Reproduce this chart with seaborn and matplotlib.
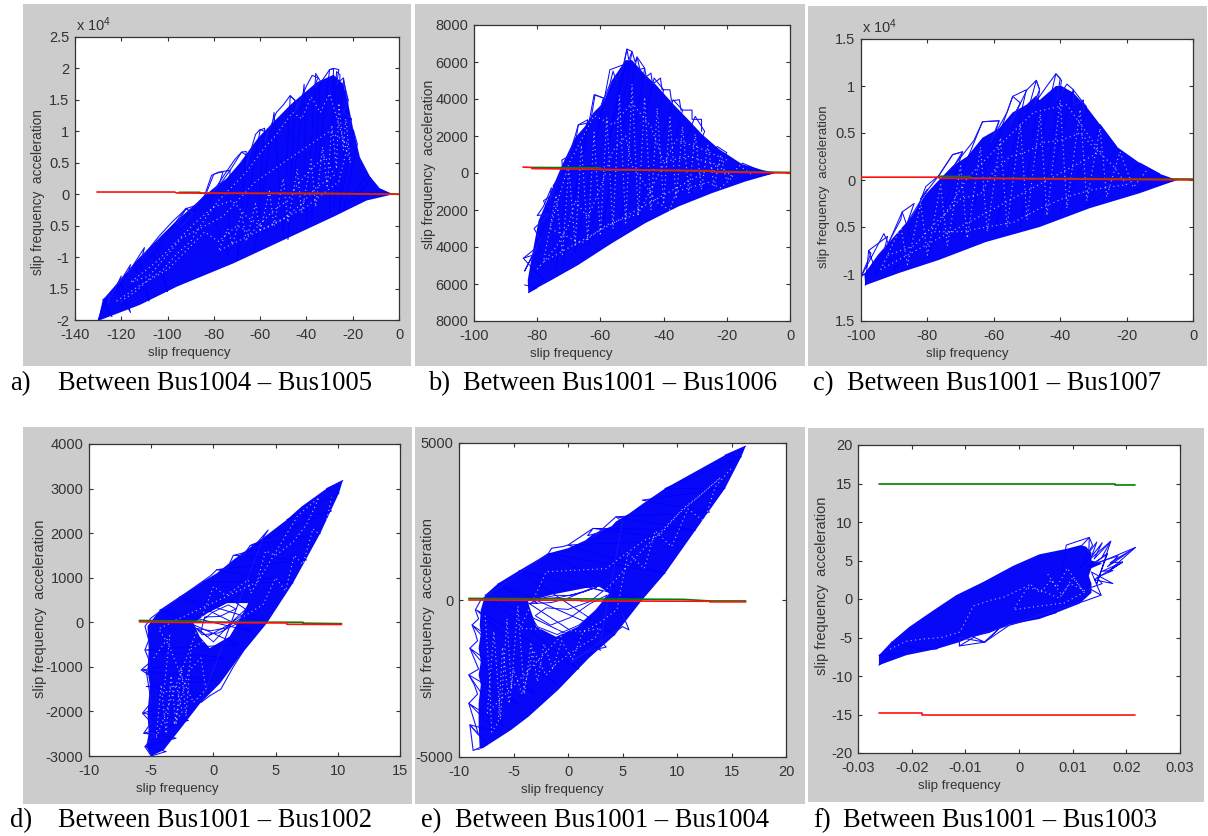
import matplotlib
matplotlib.use("Agg")
import matplotlib.pyplot as plt
from matplotlib.patches import Rectangle
import seaborn as sns

# ---------- panel a ----------
a_env_x = [-130,-128,-112,-97.5,-84.5,-80,-74.5,-68.7,-60.8,-47,-35.5,-28.3,-24,-22,-19.7,-16.9,-12.5,-8.2,-2.4,-14,-28.4,-50,-71.6,-96,-112,-129]
a_env_y = [-2,-1.68,-1,-.47,-.04,.1,.25,.5,.9,1.42,1.78,1.9,1.75,1.45,1.02,.59,.28,.09,0,-.1,-.36,-.73,-1.1,-1.47,-1.76,-2]
a_scr_x = [-130,-127,-124,-127.5,-120,-116,-122,-112,-108,-114,-104,-100,-106,-97,-92,-90,-96,-94,-84,-80,-76,-78,-82,-74,-73,-68,-66,-70,-60,-58,-62,-54,-50,-47,-45,-48,-41,-40,-36,-34,-38,-30,-28.3,-30,-27,-25.5,-28,-24,-22,-26,-19.7,-18,-24,-14,-12,-20,-8,-4]
a_scr_y = [-2,-1.68,-1.95,-1.78,-1.42,-1.88,-1.5,-1.02,-1.7,-1.2,-.88,-1.55,-.95,-.47,-.22,-.3,-.5,-.55,-.05,.32,.36,.12,-.1,-1.0,.38,.67,.68,-1.05,1.02,1.05,-.8,1.3,-.7,1.56,1.5,-.72,1.75,-.5,1.92,1.8,-.45,1.98,2,-.3,1.95,1.9,-.2,1.82,1.5,-.3,1.02,.8,-.25,.3,.25,-.1,.08,0]
a_edge_x = [-128,-125,-126,-120,-121,-116,-117,-110,-111,-104,-98,-92,-89,-94,-96,-92,-88,-84,-81,-78,-73,-78,-81,-76,-71,-68,-65,-66,-62,-60,-57,-58,-53,-50,-47,-44,-45,-40,-37.5,-35,-37,-33,-30,-28,-26,-27,-24,-23,-22,-24,-20.5,-22]
a_edge_y = [-1.68,-1.6,-1.75,-1.3,-1.42,-1.12,-1.25,-.85,-1,-.68,-.44,-.23,-.3,-.52,-.47,-.23,-.18,-.02,.3,.35,.38,.12,0,.28,.55,.67,.6,.45,.95,1.03,.98,.85,1.3,1.42,1.57,1.45,1.3,1.72,1.89,1.85,1.68,1.82,1.98,2,1.98,1.75,1.85,1.6,1.5,1.3,1.2,1.0]
a_gap_x = [-122,-112,-100,-92,-84,-78,-70,-64,-58,-54,-48,-44,-38,-32,-28,-36,-42,-50,-58,-66,-72,-80,-88,-104,-116,-108,-94,-76,-62,-52,-42,-30,-22,-26,-40,-56,-78,-74,-72,-68,-66,-62,-60,-56,-54,-50,-48,-44,-42,-38,-36,-33,-31,-29,-27,-26,-24,-23,-21,-30,-34,-38,-42,-46,-50,-54,-58,-62,-66,-70,-74,-78,-84,-90,-96,-102,-108,-114,-120]
a_gap_y = [-1.7,-1.45,-1.2,-.9,-.6,-.75,-.5,-.62,-.4,-.25,-.1,.15,.4,.6,.3,.1,-.15,-.4,-.55,-.35,-.1,-.2,-.45,-1.05,-1.4,-1.3,-.7,-.35,.2,.45,.7,1.0,.8,.2,-.2,-.5,-.9,-.55,-.8,-.3,-.75,-.15,-.6,.05,-.5,.25,-.45,.4,-.3,.55,-.2,.75,.1,1.1,.4,1.45,.7,1.2,.5,1.6,1.3,1.55,1.2,1.3,1.1,.9,.75,.55,.35,.2,.05,-.1,-.4,-.75,-.95,-1.2,-1.35,-1.55,-1.7]
a_green_x = [-95,-86,-86,-40,-30,0]
a_green_y = [.03,.03,.015,.015,.015,0]
a_red_x = [-130.5,-97,-96,-40,0]
a_red_y = [.035,.035,.02,.01,0]
a_xticks = [-140,-120,-100,-80,-60,-40,-20,0]
a_yticks = [-2,-1.5,-1,-.5,0,.5,1,1.5,2,2.5]
a_ylabels = ["-2","1.5","-1","0.5","0","0.5","1","1.5","2","2.5"]

# ---------- panel b ----------
b_env_x = [-82.8,-83,-82,-79.6,-75.9,-72.2,-68,-65,-62,-59,-56.4,-52,-50,-48.4,-45.8,-42.6,-36.8,-32,-27.9,-22.5,-15.2,-8.9,-4.6,-14.1,-24.7,-35.3,-45.8,-56.4,-67,-75.4]
b_env_y = [-6470,-5800,-4800,-2600,-1100,400,1900,2500,3300,3800,5000,6100,6100,5800,5300,4800,3700,2850,2100,1300,480,170,10,-460,-1090,-1810,-2710,-3800,-4970,-5780]
b_scr_x = [-84,-80,-82.8,-78,-84.4,-79,-80,-76,-78,-72,-75,-70,-74,-67,-64,-72,-62,-59,-68,-57,-52,-64,-51.6,-50,-60,-48.4,-46,-54,-43,-40,-48,-37,-34,-42,-30,-27,-36,-23,-20,-28,-15,-10,-16,-5]
b_scr_y = [-6050,-6200,-6470,-5800,-4610,-4300,-3600,-2300,-1500,-800,-700,500,-5200,2600,2880,-5000,4230,4050,-4300,5580,5900,-3900,6700,6570,-3500,6270,5670,-2900,5130,4500,-2500,3960,3400,-2000,3060,2250,-1400,1430,1100,-1000,530,170,-400,0]
b_edge_x = [-84.4,-80,-84,-79,-81,-76,-80,-78,-75.5,-76,-72,-72.2,-70,-68,-67,-64,-63,-61.7,-59,-60,-57,-56,-55,-53,-51.6,-51,-50,-49,-48.4,-47.5,-46,-45.5,-44,-43.5,-41,-40.5,-38,-37.5,-35,-34.5,-31,-31,-28,-28]
b_edge_y = [-4610,-4000,-5300,-3600,-3000,-2200,-2300,-1800,-800,-1500,300,700,900,2000,2600,2700,2880,4230,4050,3500,4800,5500,5000,5600,6700,6100,6570,6000,6270,5600,5670,5200,5400,4800,5130,4500,4500,3900,3960,3400,3400,2900,2900,2250]
b_gap_x = [-80,-74,-70,-68,-64,-60,-56,-52,-50,-46,-42,-38,-36,-30,-26,-22,-18,-24,-32,-40,-44,-50,-56,-62,-70,-76,-66,-58,-48,-36,-28,-20,-78,-74,-72,-70,-68,-66,-64,-62,-60,-58,-56,-54,-52,-50,-48,-46,-44,-42,-40,-38,-36,-34,-32,-30,-28,-26,-24,-22,-20,-16,-12]
b_gap_y = [-5200,-4000,-2800,-1500,-2400,-800,1200,2000,400,-600,-1600,-2000,-1000,-700,-500,-800,-200,500,900,600,2500,3800,2600,3100,500,-3000,-3800,-2800,-2200,1800,1300,700,-4800,-1200,-4400,300,-3900,1500,-3600,2200,-3400,3000,-3000,4200,-2700,4800,-2300,4100,-2000,3500,-1700,3000,-1400,2500,-1100,2100,-900,1500,-700,900,-400,400,-100]
b_green_x = [-81.7,-60,-60,0]
b_green_y = [300,280,180,30]
b_red_x = [-84.5,-81.7,-81.7,-24,-24,0]
b_red_y = [320,300,240,120,60,0]
b_xticks = [-100,-80,-60,-40,-20,0]
b_yticks = [-8000,-6000,-4000,-2000,0,2000,4000,6000,8000]
b_ylabels = ["8000","6000","4000","2000","0","2000","4000","6000","8000"]

# ---------- panel c ----------
c_env_x = [-98.7,-99,-95,-90,-85,-80.5,-76.5,-72.4,-68,-63.4,-58.4,-54.3,-50.2,-47.2,-46.2,-41.3,-39.6,-36.1,-32.1,-28,-23,-16,-9.9,-4.8,-16,-31.1,-46.2,-62.4,-76.5,-88.6]
c_env_y = [-1.12,-1,-.8,-.6,-.4,-.15,0,.15,.25,.45,.55,.72,.8,.9,.85,1,1,.93,.78,.59,.355,.18,.064,0,-.14,-.3,-.5,-.66,-.85,-.99]
c_scr_x = [-98.7,-97.7,-96,-100,-93.1,-90,-96,-87.6,-84,-90,-80.5,-76.5,-72.4,-69.4,-80,-63.4,-58.4,-70,-54.3,-50.2,-60,-47.2,-46.2,-52,-41.3,-39.6,-46,-36.1,-32.1,-40,-28,-23,-32,-16,-10,-18,-5]
c_scr_y = [-1.12,-.75,-.92,-1.03,-.57,-.82,-1.02,-.34,-.7,-.96,-.07,.05,.27,.3,-.82,.62,.63,-.66,.89,.96,-.58,1.06,.96,-.5,1.13,1.06,-.42,.96,.78,-.36,.59,.355,-.28,.18,.064,-.12,0]
c_edge_x = [-100,-97,-97.7,-92,-93,-88,-87.6,-84,-86,-80,-82,-76.5,-72.4,-69.4,-72,-66,-63.4,-58.4,-61,-56,-54.3,-52,-55,-50,-47.2,-46.2,-48,-44,-41.3,-40,-41,-38,-36,-36,-33,-33]
c_edge_y = [-1.03,-.78,-.75,-.6,-.75,-.42,-.34,-.25,-.45,-.1,-.2,.05,.27,.3,.15,.42,.62,.63,.4,.72,.89,.82,.6,.96,1.06,.96,.8,1,1.13,1.08,.85,1.02,.96,.8,.85,.7]
c_gap_x = [-92,-84,-76,-70,-64,-60,-55,-50,-45,-40,-34,-30,-24,-20,-30,-38,-46,-54,-62,-70,-78,-68,-58,-48,-38,-28,-94,-88,-86,-82,-80,-76,-74,-70,-68,-64,-62,-58,-56,-52,-50,-46,-44,-40,-38,-34,-32,-28,-26,-22,-18,-14]
c_gap_y = [-.8,-.7,-.4,-.2,-.15,.1,.25,.3,.4,.42,.5,.35,.15,-.05,-.1,-.18,-.3,-.45,-.5,-.55,-.55,.02,.38,.72,.8,.3,-.95,-.5,-.9,-.25,-.8,-.05,-.7,.15,-.62,.35,-.55,.45,-.5,.6,-.42,.7,-.38,.85,-.3,.75,-.22,.55,-.18,.3,-.08,.1]
c_green_x = [-76.5,-67,-67,0]
c_green_y = [.04,.035,.02,.01]
c_red_x = [-100,-76.5,-76.5,0]
c_red_y = [.03,.03,.02,0]
c_xticks = [-100,-80,-60,-40,-20,0]
c_yticks = [-1.5,-1,-.5,0,.5,1,1.5]
c_ylabels = ["1.5","-1","0.5","0","0.5","1","1.5"]

# ---------- panel d ----------
d_env_x = [-5,-5.4,-5.2,-5.3,-5.1,-5.3,-5.2,-5.3,-4.3,-2.7,-.8,.27,1.6,2.95,4.4,5.9,7.1,9.1,10.4,10.1,8.6,6.4,4.3,2.1,.54,-1.07,-2.4,-4]
d_env_y = [-3000,-2790,-2490,-2040,-1440,-1070,-620,-90,280,580,920,1100,1400,1680,1980,2300,2600,3000,3180,2900,2000,880,-20,-770,-1370,-1820,-2300,-2870]
d_scr_x = [-5,-3.8,-5.5,-3,-5.6,-2,-5.7,-.8,-5.4,0,-5.8,1,-5.5,2,-4.3,3,-2.7,4.3,-.8,6.4,.27,7.5,1.6,8.6,2.95,9.5,5.9,10.1,9.1,10.4]
d_scr_y = [-3000,-2900,-2790,-2600,-2490,-2200,-2040,-1600,-1440,-1300,-1070,-800,-620,-500,280,-200,580,-20,920,880,1180,1400,1500,2000,1720,2500,2300,2900,3000,3180]
d_edge_x = [-5,-5.5,-4.7,-5.6,-5,-5.7,-5,-5.2,-5.4,-5.1,-5.8,-5.1,-5.5,-5.2,-5.5,-5,-.2,.27,1.1,1.6,2.4,2.95,3.5,4.4,4,-1,-.3,.6,1.6,2.4]
d_edge_y = [-3000,-2790,-2500,-2490,-2250,-2040,-1800,-1440,-1100,-1200,-1070,-900,-620,-400,-90,100,1050,1180,1200,1500,1500,1720,1780,2070,1900,-1800,-1650,-1500,-1000,-650]
d_hole_x = [-1.6,-.5,1.1,2.8,2.1,1.3,-.3,-1.1]
d_hole_y = [-20,200,430,430,50,-320,-580,-320]
d_arc_x = [-1.7,-.9,.4,1.9,2.5,1.2,-.5,-1.3,-.2,1,2.2,2.7,1.6,0,-1,-.7,.5,1.8,1.2,-.1,-.8]
d_arc_y = [-40,-280,-240,-30,200,-60,-320,-140,-190,-130,90,320,40,-440,-200,120,130,300,390,220,60]
d_gap_x = [-4.8,-3.5,-4,-3,-2.5,-3.2,-2,-1,-.6,-1.6,-2.6,-3.6,-4.4,-3,3.5,4.2,5,6.4,7.5,8.5,6.8,3,2.8,1,0,-4.6,-4.2,-3.8,-3.4,-3,-2.6,-2.2,-1.8,4,5,5.8,6.5,7.2,8,8.8,9.5]
d_gap_y = [-800,-300,-1600,-1400,-2000,-2300,-1100,-800,-1500,-1800,-1200,-500,-150,50,900,1600,1500,1800,2200,2800,2400,650,950,600,800,-2600,-1400,-2500,-1200,-2300,-1000,-2100,-600,400,1000,700,1500,1300,2100,1900,2800]
d_green_x = [-5.95,-1,-1,7.2,7.2,10.3]
d_green_y = [40,25,5,0,-20,-30]
d_red_x = [-5.95,-2.4,5.9,5.9,10.3]
d_red_y = [10,-5,-15,-45,-50]
d_xticks = [-10,-5,0,5,10,15]
d_yticks = [-3000,-2000,-1000,0,1000,2000,3000,4000]
d_ylabels = ["-3000","-2000","-1000","0","1000","2000","3000","4000"]

# ---------- panel e ----------
e_env_x = [-8.7,-8.1,-8.2,-8.2,-8,-8.2,-8,-8.2,-8,-8.1,-8,-7.6,-6.4,-4.5,-1.8,0,1.6,2.3,4,4.4,5.6,6.8,8.9,11.1,14.4,16.3,15.9,14.4,11.7,8.9,6.8,4.3,1.9,-.9,-3.6,-5.2,-7.8]
e_env_y = [-4790,-4770,-3975,-3290,-2700,-2385,-1960,-1537,-1060,-795,-318,159,530,933,1484,1650,1900,2100,2350,2500,2750,3050,3550,3975,4610,4900,4560,3550,2226,848,0,-1113,-1855,-2862,-3710,-4134,-4717]
e_scr_x = [-8.7,-7.4,-9,-6.5,-9.1,-5.8,-9.1,-4.6,-9,-3,-8.8,-1,-8.4,1,-7.6,3,-6.4,4.3,-4.5,6.8,-1.8,8.9,0,10.5,2.3,11.7,4.4,13,6.8,14.4,8.9,15.9,14.4,16.3]
e_scr_y = [-4790,-4600,-3975,-4200,-3290,-4050,-2385,-3300,-1537,-3000,-795,-2700,-318,-2200,159,-1600,530,-1113,933,0,1484,848,1750,1900,2280,2226,2650,2800,3180,3550,3550,4560,4610,4900]
e_edge_x = [-8.7,-9,-8.2,-9.1,-8.3,-8.6,-9.1,-8.2,-9,-8.3,-8.5,-8.8,-8.2,-8.5,-8,-1.8,-1.5,-.5,0,2.3,1.8,3,2.3,4.4,5,3,3.5,2.2,1.2,.2,5,5.6,5]
e_edge_y = [-4790,-3975,-4300,-3290,-3000,-2700,-2385,-2200,-1537,-1300,-1060,-795,-600,-318,0,1484,1650,1700,1750,2280,2050,2150,2000,2650,2500,-1300,-1500,-1600,-1750,-2000,-850,-950,-450]
e_hole_x = [-3.7,-1.5,1.6,2.9,3.8,2.5,.9,-1.1,-2.9]
e_hole_y = [-50,170,380,420,210,-320,-850,-1170,-850]
e_arc_x = [-3.8,-2.8,-1,1,2.7,3.6,2,.2,-1.6,-3,-2,0,2,3.2,2.2,0,-1.5,-3.6,-2.4,-.8,1.4,2.6,1.8,.2,-1.1,-3.4,-2.8]
e_arc_y = [-300,-850,-1100,-800,-300,160,-120,-560,-800,-500,-250,-300,-50,280,380,60,-80,-120,40,80,250,400,310,140,150,-10,-100]
e_gap_x = [-7.6,-7.2,-7,-6.4,-6,-5.4,-5,-4.2,-3.5,-3.2,-2,-1,1,2.5,3,1.5,-4.4,-2,3.5,5,7,8.5,10.5,12,14,10,6,4.5,-7.4,-6.8,-6.2,-5.6,-5.2,-4.6,-4,-3.4,-2.8,-2.2,-1.4,-.6,.4,1.4,3,4.5,5.5,7,8,9.5,11,12.5,13.5,15]
e_gap_y = [-500,-2500,-4200,-3900,-1500,-3300,-2200,-3000,-2100,-1600,-2400,-2000,-1500,-1200,-900,-1000,-900,900,1000,1400,1900,2100,2900,3300,3900,2700,1300,700,-3600,-1000,-3800,-600,-2800,-200,-3000,-1400,-2600,-1400,-2200,-1300,-1900,-1000,-700,-300,1500,1000,2200,1700,2900,2500,3600,4200]
e_green_x = [-9.1,10.6,13,16.3]
e_green_y = [50,20,-30,-30]
e_red_x = [-9.1,1.2,1.2,13,13,16.3]
e_red_y = [0,-10,-30,-40,-60,-60]
e_xticks = [-10,-5,0,5,10,15,20]
e_yticks = [-5000,0,5000]
e_ylabels = ["-5000","0","5000"]

# ---------- panel f ----------
f_env_x = [-.0261,-.0261,-.0238,-.0204,-.016,-.0117,-.0067,-.0011,.0038,.0088,.0115,.0125,.0135,.0135,.0155,.0135,.013,.0135,.0135,.0113,.0069,.0038,-.0018,-.0055,-.0086,-.0111,-.0154,-.021]
f_env_y = [-8.6,-7.3,-5.6,-3.6,-1.5,.5,2.2,4.3,5.8,6.5,7,6.8,6,5,4.6,4,3,2,.8,-.6,-1.8,-2.6,-3.3,-4.4,-4.9,-5.6,-6.5,-7.3]
f_scr_x = [-.0261,-.023,-.0261,-.0215,-.0238,-.019,-.0154,-.0111,-.0111,-.0064,-.0018,.0069,.0088,.0131,.0137,.0113,.0171,.0145,.0165,.0125,.0217,.0165,.0193,.014,.0175,.0135,.0153]
f_scr_y = [-8.6,-7,-7.3,-7.1,-5.6,-6.4,-6.5,-4.5,-6.1,-5.6,-3.4,-1.8,7,8,7,4,7.5,2,5.9,4,6.7,3.5,4.8,2.5,2,3.5,.5]
f_edge_x = [.0115,.0131,.013,.0145,.0135,.0155,.014,.0171,.0155,.0165,.014,.0185,.0165,.0217,.017,.0193,.0155,.0175,.0145,.0155,.013,.0153,.0125,-.0086,-.0064,-.0035,-.0064,-.0111,-.0111,-.0085]
f_edge_y = [6.8,8,6,7.4,5.5,7.3,5.2,7.5,5.5,5.9,4.6,5.6,4.2,6.7,4.7,4.8,3.6,3.7,2.8,2,1.4,.5,-.2,-4.9,-5.6,-3.7,-5.6,-5,-6.1,-5]
f_gap_x = [-.024,-.021,-.018,-.0145,-.011,-.0085,-.005,-.003,.001,.004,.0055,.0075,.0095,.0125,.0085,.003,-.001,.002,.004,.006,.008,.01,.012,.009,.007,.005]
f_gap_y = [-6.5,-5.5,-5.2,-5,-4.3,-.9,-.1,.2,1.5,1.2,.7,.1,2,1,-.5,-1,-1.4,2,.8,2.5,.5,2.8,1,4,1.5,3.6]
f_green_x = [-.0261,.0178,.0178,.0217]
f_green_y = [15,15,14.85,14.85]
f_red_x = [-.0261,-.018,-.018,.0217]
f_red_y = [-14.85,-14.85,-15,-15]
f_xticks = [-.03,-.02,-.01,0,.01,.02,.03]
f_xlabels = ["-0.03","-0.02","-0.01","0","0.01","0.02","0.03"]
f_yticks = [-20,-15,-10,-5,0,5,10,15,20]
f_ylabels = ["-20","-15","-10","-5","0","5","10","15","20"]

captions = ["Between Bus1004 – Bus1005","Between Bus1001 – Bus1006","Between Bus1001 – Bus1007",
            "Between Bus1001 – Bus1002","Between Bus1001 – Bus1004","Between Bus1001 – Bus1003"]
letters = ["a)","b)","c)","d)","e)","f)"]

# ---------- layout in pixels ----------
W, H = 1208, 836
sns.set_theme(style="white")
plt.rcParams["font.family"] = ["Liberation Sans"]
plt.rcParams["mathtext.default"] = "regular"
fig = plt.figure(figsize=(W/100, H/100), dpi=100, facecolor="white")
INK = "#333333"

def box(x0, y0, x1, y1):
    return [x0/W, 1-y1/H, (x1-x0)/W, (y1-y0)/H]

def panel(gray, axbox, xlim, ylim, xt, xl, yt, yl, env, scr, edge, gap, green, red,
          hole=None, arc=None, mult=False, cap=0, letter_x=8, cap_x=58, cap_y=390,
          xlabel_cx=None, ylabel_x=None, ylabel_cy=None, ylabel_fs=9.8):
    fig.add_artist(Rectangle((gray[0]/W, 1-gray[3]/H), (gray[2]-gray[0])/W, (gray[3]-gray[1])/H,
                             transform=fig.transFigure, fc="#cccccc", ec="none", zorder=-5))
    ax = fig.add_axes(box(*axbox), facecolor="white")
    ax.fill(env[0], env[1], color="#0808f8", lw=0, zorder=1)
    if hole:
        ax.fill(hole[0], hole[1], color="white", lw=0, zorder=1.5)
    sns.lineplot(x=scr[0], y=scr[1], sort=False, estimator=None, color="#0000ff", lw=0.7, ax=ax, zorder=2)
    sns.lineplot(x=edge[0], y=edge[1], sort=False, estimator=None, color="#1414ff", lw=0.8, ax=ax, zorder=2)
    sns.lineplot(x=gap[0], y=gap[1], sort=False, estimator=None, color="white", lw=0.8, alpha=0.7,
                 linestyle=(0, (1, 3)), ax=ax, zorder=2.5)
    if arc:
        sns.lineplot(x=arc[0], y=arc[1], sort=False, estimator=None, color="#1010ff", lw=0.7, ax=ax, zorder=2.6)
    sns.lineplot(x=green[0], y=green[1], sort=False, estimator=None, color="#007f00", lw=1.2, ax=ax, zorder=3)
    sns.lineplot(x=red[0], y=red[1], sort=False, estimator=None, color="#ff1010", lw=1.2, ax=ax, zorder=3.2)
    ax.set_xlim(*xlim); ax.set_ylim(*ylim)
    ax.set_xticks(xt); ax.set_xticklabels(xl)
    ax.set_yticks(yt); ax.set_yticklabels(yl)
    ax.tick_params(direction="in", length=3.2, width=0.8, color=INK, labelcolor=INK, labelsize=10.5,
                   top=True, right=True, bottom=True, left=True)
    ax.tick_params(axis="x", pad=6)
    ax.tick_params(axis="y", pad=4)
    for s in ax.spines.values():
        s.set_color(INK); s.set_linewidth(0.9); s.set_visible(True)
    ax.grid(False)
    ax.set_xlabel(""); ax.set_ylabel("")
    fig.text(xlabel_cx/W, 1-(axbox[3]+33)/H, "slip frequency", ha="center", va="center", fontsize=9.6, color=INK)
    fig.text(ylabel_x/W, 1-ylabel_cy/H, "slip frequency  acceleration", rotation=90,
             ha="center", va="center", fontsize=ylabel_fs, color=INK)
    if mult:
        fig.text((axbox[0]+1)/W, 1-(axbox[1]-12)/H, r"x 10$^{4}$", ha="left", va="center", fontsize=10.5, color=INK)
    fig.text(letter_x/W, 1-cap_y/H, letters[cap], family="Liberation Serif", fontsize=19.1, color="black", va="baseline")
    fig.text(cap_x/W, 1-cap_y/H, captions[cap], family="Liberation Serif", fontsize=19.1, color="black", va="baseline")

s = lambda t: [str(v) for v in t]

panel((23,4,411,366),(75,37,399,320),(-140,0),(-2,2.5),a_xticks,s(a_xticks),a_yticks,a_ylabels,
      (a_env_x,a_env_y),(a_scr_x,a_scr_y),(a_edge_x,a_edge_y),(a_gap_x,a_gap_y),(a_green_x,a_green_y),(a_red_x,a_red_y),
      mult=True,cap=0,letter_x=10,cap_x=58,cap_y=390,xlabel_cx=189,ylabel_x=38,ylabel_cy=192,ylabel_fs=9.8)
panel((415,4,805,366),(474,25,790,321),(-100,0),(-8000,8000),b_xticks,s(b_xticks),b_yticks,b_ylabels,
      (b_env_x,b_env_y),(b_scr_x,b_scr_y),(b_edge_x,b_edge_y),(b_gap_x,b_gap_y),(b_green_x,b_green_y),(b_red_x,b_red_y),
      cap=1,letter_x=428,cap_x=463,cap_y=390,xlabel_cx=571,ylabel_x=429,ylabel_cy=164,ylabel_fs=10)
panel((808,6,1207,366),(861,39,1193,321),(-100,0),(-1.5,1.5),c_xticks,s(c_xticks),c_yticks,c_ylabels,
      (c_env_x,c_env_y),(c_scr_x,c_scr_y),(c_edge_x,c_edge_y),(c_gap_x,c_gap_y),(c_green_x,c_green_y),(c_red_x,c_red_y),
      mult=True,cap=2,letter_x=813,cap_x=847,cap_y=390,xlabel_cx=967,ylabel_x=824,ylabel_cy=187,ylabel_fs=9.6)
panel((23,427,412,804),(89,444,400,756),(-10,15),(-3000,4000),d_xticks,s(d_xticks),d_yticks,d_ylabels,
      (d_env_x,d_env_y),(d_scr_x,d_scr_y),(d_edge_x,d_edge_y),(d_gap_x,d_gap_y),(d_green_x,d_green_y),(d_red_x,d_red_y),
      hole=(d_hole_x,d_hole_y),arc=(d_arc_x,d_arc_y),cap=3,letter_x=10,cap_x=58,cap_y=827,xlabel_cx=177,ylabel_x=40,ylabel_cy=609,ylabel_fs=10.5)
panel((415,427,805,804),(459,443,786,757),(-10,20),(-5000,5000),e_xticks,s(e_xticks),e_yticks,e_ylabels,
      (e_env_x,e_env_y),(e_scr_x,e_scr_y),(e_edge_x,e_edge_y),(e_gap_x,e_gap_y),(e_green_x,e_green_y),(e_red_x,e_red_y),
      hole=(e_hole_x,e_hole_y),arc=(e_arc_x,e_arc_y),cap=4,letter_x=421,cap_x=455,cap_y=827,xlabel_cx=562,ylabel_x=428,ylabel_cy=608,ylabel_fs=10.6)
panel((808,428,1204,802),(858,445,1180,753),(-.03,.03),(-20,20),f_xticks,f_xlabels,f_yticks,f_ylabels,
      (f_env_x,f_env_y),(f_scr_x,f_scr_y),(f_edge_x,f_edge_y),(f_gap_x,f_gap_y),(f_green_x,f_green_y),(f_red_x,f_red_y),
      cap=5,letter_x=813,cap_x=843,cap_y=827,xlabel_cx=959,ylabel_x=822,ylabel_cy=586,ylabel_fs=10.5)

fig.savefig("out.png", dpi=100)
